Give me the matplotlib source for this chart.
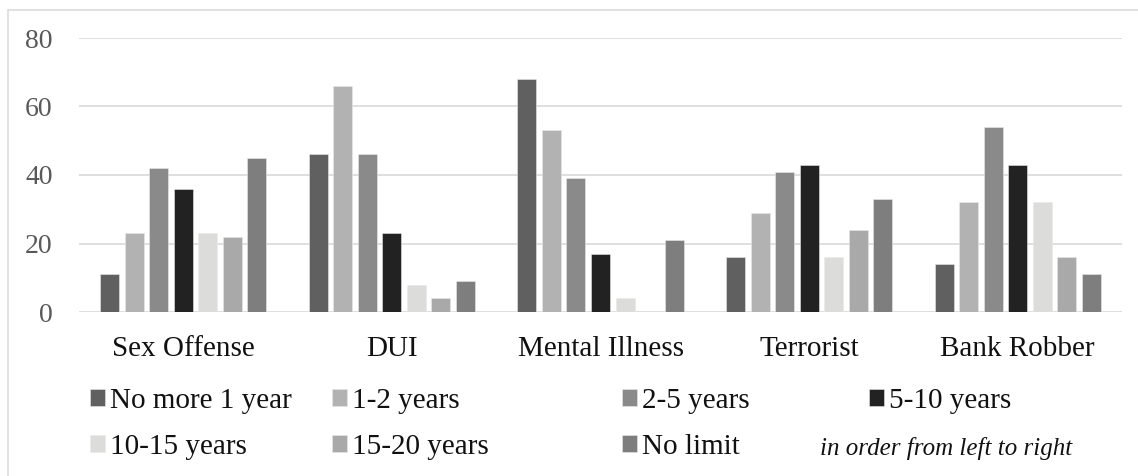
import numpy as np
import matplotlib
matplotlib.use('Agg')
import matplotlib.pyplot as plt
from matplotlib.patches import Rectangle

plt.rcParams['font.family'] = ['Liberation Serif', 'DejaVu Serif']

categories = ['Sex Offense', 'DUI', 'Mental Illness', 'Terrorist', 'Bank Robber']
series = ['No more 1 year', '1-2 years', '2-5 years', '5-10 years',
          '10-15 years', '15-20 years', 'No limit']
no_more_1 = [11, 46, 68, 16, 14]
y1_2 = [23, 66, 53, 29, 32]
y2_5 = [42, 46, 39, 41, 54]
y5_10 = [36, 23, 17, 43, 43]
y10_15 = [23, 8, 4, 16, 32]
y15_20 = [22, 4, 0, 24, 16]
no_limit = [45, 9, 21, 33, 11]
values = [no_more_1, y1_2, y2_5, y5_10, y10_15, y15_20, no_limit]
colors = ['#606060', '#b2b2b2', '#8a8a8a', '#222222', '#dcdcda', '#a9a9a9', '#7e7e7e']

W, H = 1138, 476
fig = plt.figure(figsize=(W / 100, H / 100), dpi=100)
ax = fig.add_axes([79 / W, 1 - 312 / H, (1122 - 79) / W, (312 - 38) / H])

x = np.arange(len(categories))
step = 0.1175
width = 0.091
bars = []
for k, (name, vals) in enumerate(zip(series, values)):
    b = ax.bar(x + (k - 3) * step, vals, width, color=colors[k], label=name,
               edgecolor='#e8e8e8', linewidth=0.4, zorder=3)
    bars.append(b)

ax.set_xlim(-0.5, len(categories) - 0.5)
ax.set_ylim(0, 80)
ax.set_yticks([0, 20, 40, 60, 80])
ax.yaxis.grid(True, color='#d9d9d9', linewidth=1.2, zorder=0)
for s in ['top', 'right', 'left', 'bottom']:
    ax.spines[s].set_visible(False)
ax.set_xticks(x)
ax.set_xticklabels(categories)
ax.tick_params(axis='both', length=0)
ax.tick_params(axis='y', labelsize=20, labelcolor='#595959', pad=19)
ax.tick_params(axis='x', labelsize=21, labelcolor='#111111', pad=17)

# legend entries placed one by one, like the original's uneven columns
leg_pos = [(90, 401), (332, 401), (622, 401), (869, 401),
           (90, 447), (332, 447), (622, 447)]
for b, name, (px, py) in zip(bars, series, leg_pos):
    lg = fig.legend([b], [name], loc='center left',
                    bbox_to_anchor=(px / W, 1 - py / H),
                    frameon=False, fontsize=21, handlelength=0.5,
                    handleheight=0.5, handletextpad=0.2,
                    borderpad=0, borderaxespad=0)
    for t in lg.get_texts():
        t.set_color('#111111')

fig.text(820 / W, 1 - 448 / H, 'in order from left to right', style='italic',
         fontsize=18, va='center', ha='left', color='#111111')

# light outer frame (top and left edges visible in the original crop)
fig.patches.append(Rectangle((8 / W, -0.1), 1.2, 1 - 10 / H + 0.1,
                             transform=fig.transFigure, fill=False,
                             edgecolor='#dcdcdc', linewidth=1.2))

fig.savefig('out.png', dpi=100)
